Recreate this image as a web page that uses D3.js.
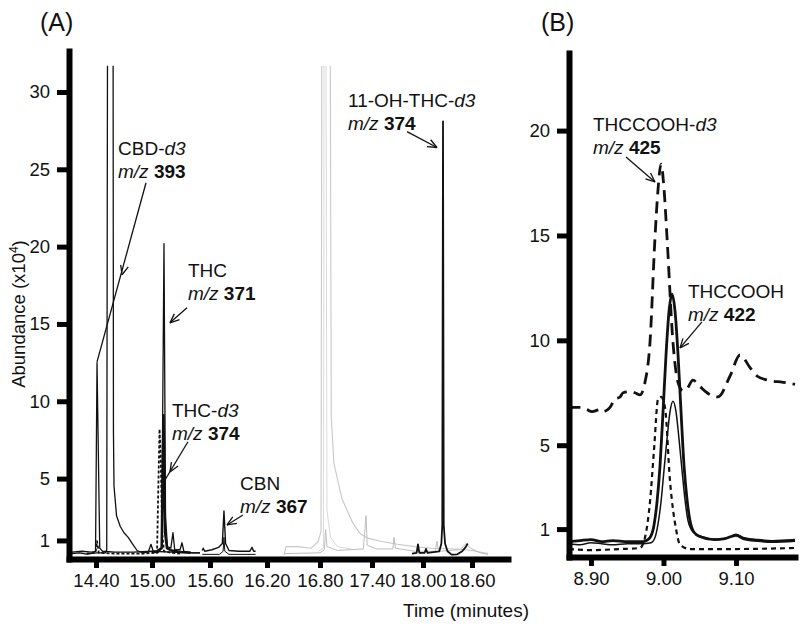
<!DOCTYPE html>
<html>
<head>
<meta charset="utf-8">
<script src="https://cdn.jsdelivr.net/npm/d3@7"></script>
<style>
body { margin: 0; background: #fff; }
svg text { font-family: "Liberation Sans", Arial, sans-serif; fill: #111; }
</style>
</head>
<body>
<svg id="chart" width="800" height="626"></svg>
<script>
// ---- tick values ----
var aTicks = [14.40, 15.00, 15.60, 16.20, 16.80, 17.40, 18.00, 18.60];
var aYTicks = [1, 5, 10, 15, 20, 25, 30];
var bTicks = [8.90, 9.00, 9.10];
var bYTicks = [1, 5, 10, 15, 20];

// ---- panel A traces: [time (min), abundance x10^4] ----
var ion393 = [[14.143,0.25],[14.25,0.3],[14.35,0.25],[14.395,0.3],[14.411,12.5],[14.440,0.5],[14.47,0.3],
  [14.60,0.25],[14.80,0.25],[15.0,0.3],[15.20,0.25],[15.40,0.2],[15.497,0.2]];
var ion371 = [[14.143,0.15],[14.22,0.2],[14.30,0.12],[14.40,0.2],[14.50,0.2],[14.515,0.4],[14.525,40],
  [14.582,40],[14.587,8],[14.593,4.5],[14.620,2.6],[14.660,1.9],[14.700,1.5],[14.745,1.2],[14.800,0.7],
  [14.840,0.35],[14.900,0.2],[14.960,0.25],[14.989,0.75],[15.015,0.25],[15.060,0.2],[15.100,0.5],
  [15.124,20.2],[15.140,2.5],[15.160,0.6],[15.195,0.5],[15.217,1.5],[15.235,0.4],[15.290,0.4],
  [15.310,0.85],[15.330,0.3],[15.420,0.2],[15.497,0.2]];
var ion374 = [[15.00,0.25],[15.05,0.3],[15.100,0.5],[15.119,9.1],[15.135,1.5],[15.155,0.5],[15.200,0.35],
  [15.300,0.25],[15.400,0.2]];
var ion374d = [[14.30,0.15],[14.395,0.2],[14.411,0.95],[14.430,0.2],[14.60,0.15],[14.90,0.15],[15.052,0.2],
  [15.064,4],[15.078,8.2],[15.090,6.5],[15.105,1.5],[15.124,0.3],[15.20,0.2],[15.30,0.15]];
var ion367 = [[15.520,0.35],[15.530,0.5],[15.545,0.3],[15.620,0.4],[15.690,0.55],[15.730,0.8],[15.747,2.9],
  [15.764,0.8],[15.800,0.35],[15.900,0.3],[16.020,0.3],[16.042,0.55],[16.060,0.3],[16.080,0.3]];
var ion367b = [[15.520,0.1],[15.700,0.1],[15.738,0.3],[15.747,1.2],[15.756,0.3],[15.800,0.1],[16.080,0.1]];
var other1 = [[16.392,0.05],[16.415,0.6],[16.550,0.6],[16.700,0.5],[16.777,0.9],[16.812,1.6],[16.823,40],
  [16.915,40],[16.930,9],[16.960,6],[17.008,4.8],[17.054,3.7],[17.112,2.95],[17.181,2.1],[17.262,1.45],
  [17.350,1.15],[17.500,0.95],[17.700,0.75],[17.900,0.6],[18.100,0.5],[18.400,0.45],[18.600,0.35],[18.796,0.15]];
var other2 = [[16.400,0.15],[16.800,0.2],[16.850,0.4],[16.865,1.7],[16.880,0.6],[17.000,0.35],[17.300,0.45],
  [17.331,2.6],[17.345,0.7],[17.450,0.45],[17.645,0.45],[17.659,1.2],[17.675,0.5],[17.900,0.3],[18.150,0.3],
  [18.171,0.95],[18.190,0.3],[18.450,0.4],[18.530,0.8],[18.580,0.5],[18.700,0.2],[18.796,0.1]];
var other3 = [[16.780,0.3],[16.840,0.5],[16.848,40],[16.866,40],[16.880,3],[16.920,1.2],[17.000,0.6],[17.200,0.4]];
var ohIon374 = [[17.871,0.15],[17.925,0.2],[17.941,0.75],[17.957,0.2],[18.020,0.2],[18.037,0.45],[18.055,0.2],
  [18.200,0.3],[18.225,0.8],[18.236,2.0],[18.245,28.1],[18.254,2.0],[18.270,0.8],[18.300,0.3],[18.350,0.08],
  [18.420,0.1],[18.480,0.3],[18.520,0.55],[18.548,0.8]];

// ---- panel B traces ----
var ion425 = [[8.8697,6.7],[8.8752,6.8],[8.8876,6.8],[8.8945,6.7],[8.9014,6.6],[8.9125,6.7],[8.9166,6.6],
  [8.9263,6.8],[8.9331,7.2],[8.9401,7.3],[8.9442,7.5],[8.9539,7.55],[8.9607,7.5],[8.9676,7.4],[8.9745,8.0],
  [8.9814,9.9],[8.9883,14.9],[8.9925,17.2],[8.9966,18.4],[9.0008,17.2],[9.0049,14.9],[9.0131,9.9],
  [9.0200,8.0],[9.0269,7.6],[9.0325,7.7],[9.0407,8.1],[9.0504,7.8],[9.0601,7.5],[9.0752,7.3],[9.0918,8.3],
  [9.1056,9.3],[9.1194,8.7],[9.1290,8.3],[9.1442,8.1],[9.1649,8.0],[9.1814,7.9]];
var ion425b = [[8.8697,0.05],[8.9000,0.0],[8.9400,0.05],[8.9676,0.1],[8.9745,0.6],[8.9814,2.3],[8.9870,4.8],
  [8.9925,7.2],[8.9966,7.3],[9.0021,6.8],[9.0090,3.3],[9.0173,1.0],[9.0228,0.25],[9.0366,0.05],[9.1000,0.05],
  [9.1814,0.1]];
var ion422 = [[8.8697,0.4],[8.8850,0.45],[8.9000,0.5],[8.9150,0.4],[8.9300,0.45],[8.9500,0.4],[8.9700,0.4],
  [8.9760,0.45],[8.9815,0.6],[8.9870,1.2],[8.9911,2.3],[8.9952,4.0],[8.9994,6.6],[9.0035,9.3],[9.0077,11.4],
  [9.0118,12.2],[9.0159,11.4],[9.0201,9.3],[9.0242,6.6],[9.0284,4.0],[9.0325,2.4],[9.0366,1.4],[9.0421,0.85],
  [9.0500,0.65],[9.0700,0.5],[9.0850,0.55],[9.1000,0.7],[9.1100,0.55],[9.1300,0.45],[9.1500,0.4],[9.1814,0.45]];
var ion422b = [[8.8697,0.3],[8.885,0.25],[8.90,0.35],[8.915,0.3],[8.93,0.25],[8.95,0.3],[8.97,0.3],[8.9828,0.35],
  [8.9883,0.6],[8.9925,1.25],[8.9966,2.3],[9.0007,3.8],[9.0049,5.3],[9.0090,6.6],[9.0131,7.1],[9.0173,6.6],
  [9.0214,5.3],[9.0256,3.8],[9.0297,2.4],[9.0338,1.4],[9.0380,1.0],[9.0435,0.8],[9.0573,0.6],[9.0750,0.5],
  [9.0900,0.6],[9.1000,0.75],[9.1100,0.6],[9.1300,0.5],[9.1500,0.45],[9.1814,0.5]];

// ---- peak labels: name, italic suffix, m/z, text anchor, arrow from/to/head (data units) ----
var notesA = [
  {name: "CBD-", it: "d3", mz: "393", at: [14.636, 25.95], from: [14.936, 24.13], to: [14.411, 12.55], head: [14.679, 18.18]},
  {name: "THC", it: "", mz: "371", at: [15.372, 18.05], from: [15.362, 16.04], to: [15.186, 15.07]},
  {name: "THC-", it: "d3", mz: "374", at: [15.207, 9.0], from: [15.372, 7.38], to: [15.134, 4.91], head: [15.186, 5.43]},
  {name: "CBN", it: "", mz: "367", at: [15.916, 4.27], from: [15.947, 2.65], to: [15.779, 2.0]},
  {name: "11-OH-THC-", it: "d3", mz: "374", at: [17.123, 29.06], from: [17.812, 27.44], to: [18.171, 26.41]}
];
var notesB = [
  {name: "THCCOOH-", it: "d3", mz: "425", at: [8.9028, 19.99], from: [8.9483, 18.74], to: [8.9883, 17.55]},
  {name: "THCCOOH", it: "", mz: "422", at: [9.0338, 12.02], from: [9.0531, 10.88], to: [9.0228, 9.64]}
];

var svg = d3.select("#chart");

// panel A time axis is not uniform in the source figure, so map tick to tick
var xA = d3.scaleLinear()
    .domain([14.1107].concat(aTicks, [19.041]))
    .range([69, 96, 152, 210, 267, 320, 372, 423, 472, 508]);
var yA = d3.scaleLinear().domain([-0.2, 32.65]).range([559, 51]);
var xB = d3.scaleLinear().domain([8.8697, 9.1814]).range([569, 795]);
var yB = d3.scaleLinear().domain([-0.33, 23.7]).range([557, 53]);

function styleAxis(g) {
    g.select(".domain").attr("stroke", "#000").attr("stroke-width", 6).attr("stroke-linecap", "square");
    g.selectAll(".tick line").attr("stroke", "#000").attr("stroke-width", 5);
    g.selectAll(".tick text").attr("font-size", 18.5).attr("fill", "#111");
}

function drawAxes(x, y, xt, yt) {
    svg.append("g")
        .attr("transform", "translate(0," + y.range()[0] + ")")
        .call(d3.axisBottom(x).tickValues(xt).tickFormat(d3.format(".2f"))
            .tickSizeInner(9).tickSizeOuter(0).tickPadding(6))
        .call(styleAxis);
    svg.append("g")
        .attr("transform", "translate(" + x.range()[0] + ",0)")
        .call(d3.axisLeft(y).tickValues(yt).tickSizeInner(12).tickSizeOuter(0).tickPadding(7))
        .call(styleAxis);
}

svg.append("clipPath").attr("id", "clipA")
    .append("rect")
    .attr("x", xA(14.1107)).attr("y", yA(31.7))
    .attr("width", xA(19.041) - xA(14.1107)).attr("height", yA(-0.2) - yA(31.7));

function trace(g, data, x, y, color, width, dash, curve) {
    var line = d3.line()
        .x(function(d) { return x(d[0]); })
        .y(function(d) { return y(d[1]); })
        .curve(curve || d3.curveLinear);
    g.append("path")
        .datum(data)
        .attr("fill", "none")
        .attr("stroke", color)
        .attr("stroke-width", width)
        .attr("stroke-dasharray", dash)
        .attr("stroke-linejoin", "round")
        .attr("d", line);
}

var gA = svg.append("g").attr("clip-path", "url(#clipA)");
trace(gA, other1, xA, yA, "#c8c8c8", 1.1, null);
trace(gA, other3, xA, yA, "#dadada", 1, null);
trace(gA, other2, xA, yA, "#bdbdbd", 1, null);
trace(gA, ion393, xA, yA, "#111", 1.3, null);
trace(gA, ion374d, xA, yA, "#111", 1.8, "3,2");
trace(gA, ion371, xA, yA, "#111", 1.3, null);
trace(gA, ion374, xA, yA, "#111", 2.5, null);
trace(gA, ion367b, xA, yA, "#111", 1, null);
trace(gA, ion367, xA, yA, "#111", 1.4, null);
trace(gA, ohIon374, xA, yA, "#111", 1.8, null);

var gB = svg.append("g");
var smooth = d3.curveMonotoneX;
trace(gB, ion425b, xB, yB, "#111", 2.2, "5,4", smooth);
trace(gB, ion425, xB, yB, "#111", 2.8, "12,7", smooth);
trace(gB, ion422b, xB, yB, "#111", 1.5, null, smooth);
trace(gB, ion422, xB, yB, "#111", 2.8, null, smooth);

drawAxes(xA, yA, aTicks, aYTicks);
drawAxes(xB, yB, bTicks, bYTicks);

function arrow(g, p1, p2, ph) {
    g.append("line")
        .attr("x1", p1[0]).attr("y1", p1[1]).attr("x2", p2[0]).attr("y2", p2[1])
        .attr("stroke", "#111").attr("stroke-width", 1.3);
    var ang = Math.atan2(p2[1] - p1[1], p2[0] - p1[0]);
    [-0.4, 0.4].forEach(function(s) {
        g.append("line")
            .attr("x1", ph[0]).attr("y1", ph[1])
            .attr("x2", ph[0] - 10 * Math.cos(ang + s))
            .attr("y2", ph[1] - 10 * Math.sin(ang + s))
            .attr("stroke", "#111").attr("stroke-width", 1.3);
    });
}

function drawNotes(notes, x, y) {
    var g = svg.append("g");
    notes.forEach(function(n) {
        var px = x(n.at[0]), py = y(n.at[1]);
        var t1 = g.append("text").attr("x", px).attr("y", py).attr("font-size", 19);
        t1.append("tspan").text(n.name);
        if (n.it) t1.append("tspan").attr("font-style", "italic").text(n.it);
        var t2 = g.append("text").attr("x", px).attr("y", py + 23).attr("font-size", 19);
        t2.append("tspan").attr("font-style", "italic").text("m/z ");
        t2.append("tspan").attr("font-weight", "bold").text(n.mz);
        var p = function(d) { return [x(d[0]), y(d[1])]; };
        arrow(g, p(n.from), p(n.to), p(n.head || n.to));
    });
}
drawNotes(notesA, xA, yA);
drawNotes(notesB, xB, yB);

// titles
svg.append("text").attr("x", 40).attr("y", 31).attr("font-size", 25).text("(A)");
svg.append("text").attr("x", 541).attr("y", 31).attr("font-size", 25).text("(B)");
svg.append("text").attr("x", 403).attr("y", 617).attr("font-size", 19).text("Time (minutes)");
var yt = svg.append("text")
    .attr("transform", "translate(25,314) rotate(-90)")
    .attr("text-anchor", "middle")
    .attr("font-size", 18.5);
yt.append("tspan").text("Abundance (x10");
yt.append("tspan").attr("font-size", 12).attr("dy", -7).text("4");
yt.append("tspan").attr("dy", 7).text(")");
</script>
</body>
</html>
